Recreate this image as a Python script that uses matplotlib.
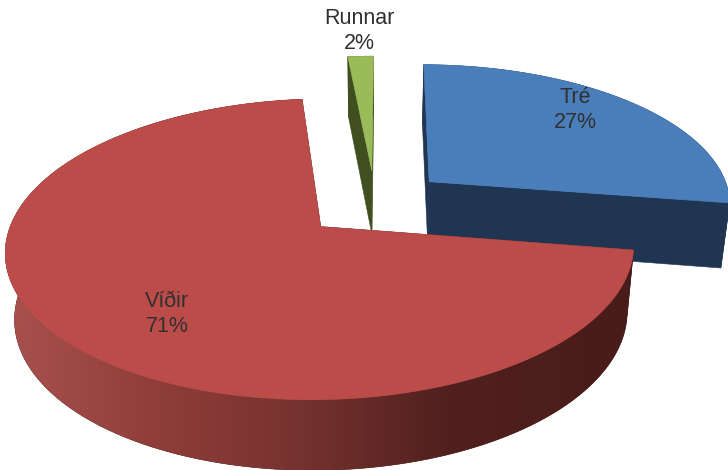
import numpy as np
import matplotlib
matplotlib.use("Agg")
import matplotlib.pyplot as plt
from matplotlib.patches import Polygon

labels = ["Tré", "Víðir", "Runnar"]
# the labels show them rounded
shares = [27.4, 71.0, 1.6]

top_colors = ["#4a7ebb", "#bc4c49", "#9bbb59"]
side_colors = ["#1f3552", "#4f1f1d", "#3f4f20"]
label_pos = [(575, 110), (167, 314), (359, 31)]

# projection of the pie plane to pixels
cx, cy = 375, 203
a, b = 303, 140
k = 0.147
depth = 65
shrink = 0.975
start = 0.3
explode = 0.24

# colours of the red rim, left to right
rim_x = [5, 150, 300, 450, 630]
rim_rgb = np.array([[168, 82, 78], [145, 62, 58], [118, 50, 47], [80, 32, 30], [72, 28, 26]]) / 255


def project(X, Y, low=False):
    X, Y = np.asarray(X, float), np.asarray(Y, float)
    w = 1 + k * Y
    sx = a * X / w
    sy = -b * Y / w
    if low:
        return cx + sx * shrink, cy + sy * shrink + depth / (1 + 0.12 * Y)
    return cx + sx, cy + sy


def face(ax, xs, ys, color, z=1):
    p = Polygon(np.column_stack([xs, ys]), closed=True, fc=color, ec=color, lw=0.4, zorder=z)
    ax.add_patch(p)
    return p


fig = plt.figure(figsize=(7.28, 4.70), dpi=100)
ax = fig.add_axes([0, 0, 1, 1])

plt.rcParams["font.family"] = ["Liberation Sans", "DejaVu Sans"]

total = sum(shares)
edges = start + np.cumsum([0] + shares) * 360.0 / total

# back slices first, the big red one goes on top of them
for i in [2, 0, 1]:
    t0, t1 = np.radians(edges[i]), np.radians(edges[i + 1])
    mid = (t0 + t1) / 2
    ox, oy = explode * np.sin(mid), explode * np.cos(mid)
    t = np.linspace(t0, t1, 240)
    X = ox + np.sin(t)
    Y = oy + np.cos(t)

    hx, hy = project(X, Y)
    lx, ly = project(X, Y, low=True)
    ax0, ay0 = project(ox, oy)
    bx0, by0 = project(ox, oy, low=True)
    z = i + 1 if i != 1 else 10

    # cut faces
    face(ax, [ax0, hx[0], lx[0], bx0], [ay0, hy[0], ly[0], by0], side_colors[i], z)
    face(ax, [ax0, hx[-1], lx[-1], bx0], [ay0, hy[-1], ly[-1], by0], side_colors[i], z)

    # outer rim, the red one has a gradient running left to right
    rim = face(ax, np.r_[hx, lx[::-1]], np.r_[hy, ly[::-1]], side_colors[i], z)
    if i == 1:
        grid = np.linspace(0, 728, 364)
        grad = np.column_stack([np.interp(grid, rim_x, rim_rgb[:, c]) for c in range(3)])
        im = ax.imshow(grad[np.newaxis, :, :], extent=[0, 728, 470, 0], aspect="auto",
                       interpolation="bilinear", zorder=z + 0.5)
        im.set_clip_path(rim)

    # top face
    face(ax, np.r_[ax0, hx], np.r_[ay0, hy], top_colors[i], z + 1)

for name, val, pos in zip(labels, shares, label_pos):
    ax.text(pos[0], pos[1], "%s\n%.0f%%" % (name, val), ha="center", va="center",
            fontsize=15.5, color="#303030", linespacing=1.2, zorder=20)

ax.set_xlim(0, 728)
ax.set_ylim(470, 0)
ax.axis("off")

fig.savefig("out.png", dpi=100)
